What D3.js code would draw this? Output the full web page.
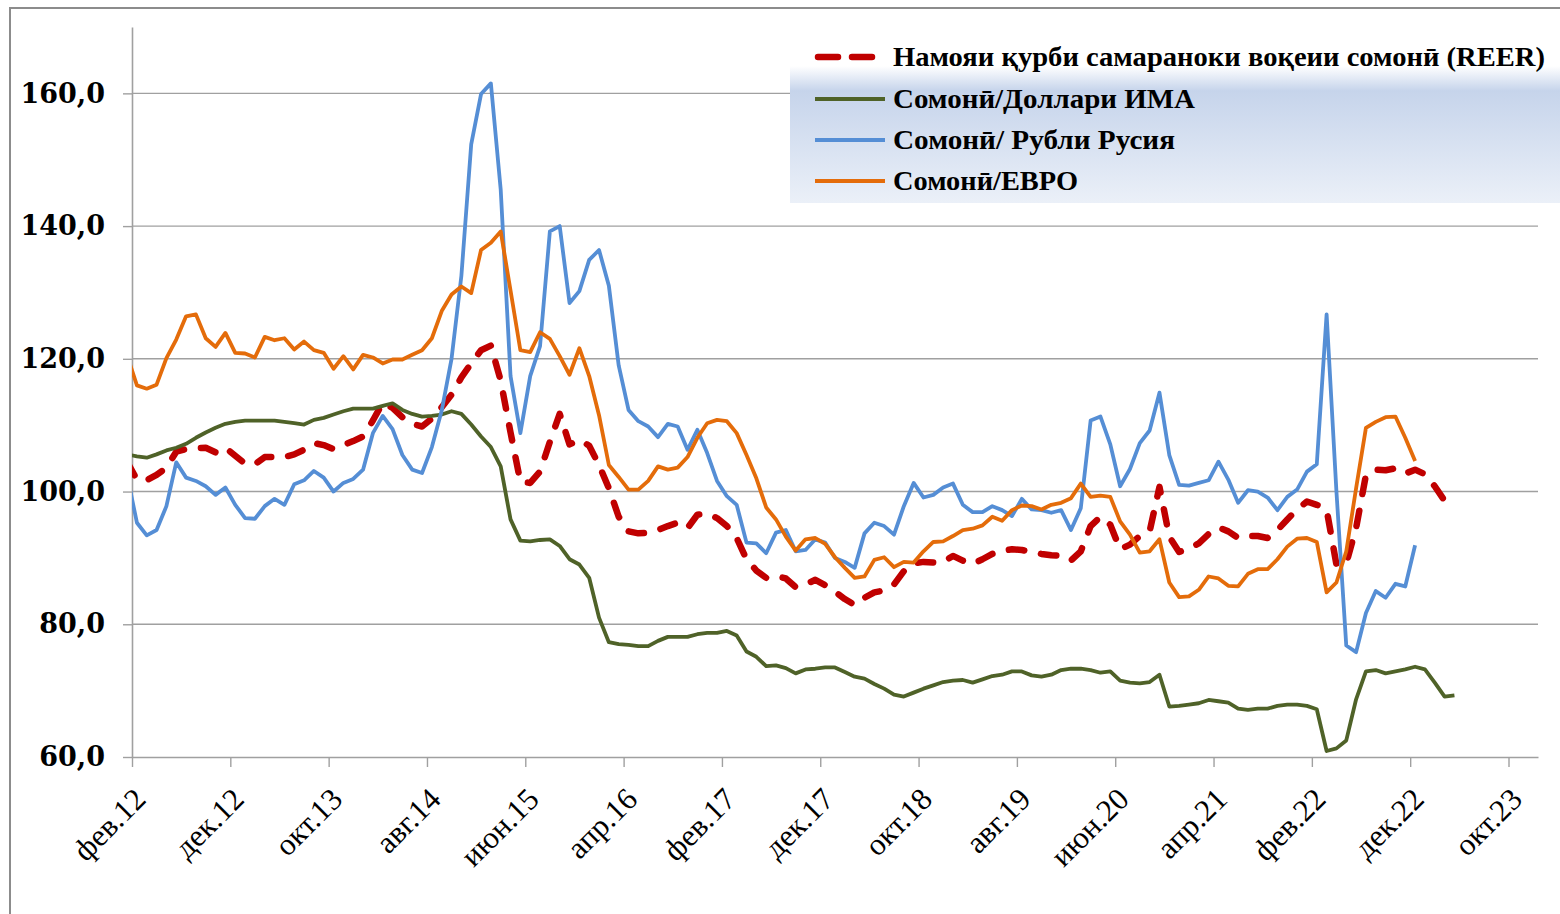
<!DOCTYPE html>
<html>
<head>
<meta charset="utf-8">
<script src="https://cdn.jsdelivr.net/npm/d3@7"></script>
<style>
  body { margin: 0; background: #fff; }
</style>
</head>
<body>
<div id="chart"></div>
<script>
// monthly index values, first value = Jan 2012 (axis starts at feb.12)
var reer = [104.5, 101.8, 101.7, 102.5, 103.6, 106.0, 106.4, 106.5, 106.6, 105.9,
  106.6, 105.4, 104.2, 104.1, 105.2, 105.2, 105.2, 105.6, 106.3, 107.3,
  107.0, 106.4, 107.0, 107.6, 108.3, 110.7, 113.4, 112.6, 111.2, 110.2,
  109.8, 111.0, 112.7, 114.6, 117.2, 119.3, 121.3, 122.0, 116.7, 108.9,
  101.5, 101.3, 103.0, 107.5, 111.7, 107.1, 107.8, 106.9, 104.0, 100.5,
  96.2, 94.0, 93.7, 93.8, 94.2, 94.8, 95.3, 94.5, 96.5, 96.7,
  96.0, 94.8, 93.0, 89.8, 88.1, 87.0, 87.3, 86.9, 85.6, 86.0,
  86.7, 85.9, 84.9, 83.8, 82.9, 84.0, 84.8, 85.1, 86.0, 88.0,
  89.2, 89.4, 89.3, 89.4, 90.3, 89.6, 89.1, 89.8, 90.6, 91.1,
  91.3, 91.2, 90.9, 90.6, 90.4, 90.3, 89.6, 91.0, 94.8, 96.2,
  95.0, 91.3, 92.0, 93.3, 94.0, 100.7, 93.2, 90.9, 91.4, 92.2,
  93.6, 94.6, 94.0, 93.0, 93.3, 93.3, 93.0, 94.2, 95.8, 97.3,
  98.5, 98.0, 97.3, 89.0, 89.2, 94.5, 102.5, 103.3, 103.2, 103.5,
  102.7, 103.3, 102.6, 100.8, 98.6];

var usd = [105.6, 105.3, 105.1, 105.6, 106.2, 106.6, 107.2, 108.1, 108.9, 109.6,
  110.2, 110.5, 110.7, 110.7, 110.7, 110.7, 110.5, 110.3, 110.1, 110.8,
  111.1, 111.6, 112.1, 112.5, 112.5, 112.5, 112.9, 113.3, 112.3, 111.7,
  111.3, 111.4, 111.6, 112.1, 111.7, 110.1, 108.3, 106.7, 103.8, 95.8,
  92.6, 92.5, 92.7, 92.8, 91.8, 89.8, 89.0, 87.0, 81.0, 77.3,
  77.0, 76.9, 76.7, 76.7, 77.5, 78.1, 78.1, 78.1, 78.5, 78.7,
  78.7, 79.0, 78.3, 75.9, 75.1, 73.7, 73.8, 73.4, 72.6, 73.2,
  73.3, 73.5, 73.5, 72.8, 72.1, 71.8, 71.0, 70.3, 69.4, 69.1,
  69.7, 70.3, 70.8, 71.3, 71.5, 71.6, 71.2, 71.7, 72.2, 72.4,
  72.9, 72.9, 72.3, 72.1, 72.4, 73.1, 73.3, 73.3, 73.1, 72.7,
  72.9, 71.5, 71.2, 71.1, 71.3, 72.4, 67.6, 67.7, 67.9, 68.1,
  68.6, 68.4, 68.2, 67.3, 67.1, 67.3, 67.3, 67.7, 67.9, 67.9,
  67.7, 67.2, 60.9, 61.3, 62.5, 68.7, 72.9, 73.1, 72.6, 72.9,
  73.2, 73.6, 73.2, 71.2, 69.1, 69.3];

var rub = [102.5, 95.3, 93.4, 94.2, 97.8, 104.4, 102.1, 101.6, 100.8, 99.5,
  100.6, 98.0, 96.0, 95.9, 97.8, 98.9, 98.0, 101.1, 101.7, 103.1,
  102.1, 100.0, 101.3, 101.9, 103.3, 108.8, 111.4, 109.4, 105.5, 103.3,
  102.8, 106.7, 112.2, 120.0, 132.5, 152.3, 159.9, 161.5, 145.5, 117.4,
  108.8, 117.4, 121.9, 139.2, 140.0, 128.4, 130.2, 134.9, 136.4, 131.0,
  119.0, 112.3, 110.6, 109.8, 108.2, 110.2, 109.8, 106.3, 109.3, 105.8,
  101.6, 99.3, 98.0, 92.3, 92.2, 90.7, 93.8, 94.2, 91.0, 91.2,
  92.8, 92.3, 90.0, 89.4, 88.5, 93.7, 95.3, 94.8, 93.5, 97.8,
  101.3, 99.1, 99.5, 100.6, 101.2, 98.0, 96.9, 96.9, 97.8, 97.2,
  96.3, 98.9, 97.3, 97.2, 96.8, 97.2, 94.2, 97.5, 110.7, 111.3,
  107.1, 100.8, 103.4, 107.3, 109.2, 114.9, 105.5, 101.0, 100.9, 101.3,
  101.7, 104.5, 101.8, 98.3, 100.2, 100.0, 99.1, 97.2, 99.2, 100.3,
  103.0, 104.1, 126.7, 100.0, 76.8, 75.8, 81.7, 85.0, 84.0, 86.1,
  85.7, 91.9];

var eur = [120.5, 116.0, 115.5, 116.1, 120.1, 122.9, 126.4, 126.7, 123.1, 121.8,
  123.9, 120.9, 120.8, 120.2, 123.3, 122.8, 123.1, 121.4, 122.6, 121.3,
  120.9, 118.5, 120.4, 118.4, 120.6, 120.2, 119.3, 119.9, 119.9, 120.6,
  121.3, 123.1, 127.2, 129.7, 130.9, 129.9, 136.4, 137.5, 139.2, 130.3,
  121.3, 121.0, 124.0, 123.0, 120.4, 117.6, 121.6, 117.4, 111.5, 104.0,
  102.2, 100.3, 100.3, 101.6, 103.8, 103.3, 103.6, 105.2, 108.1, 110.3,
  110.8, 110.6, 108.8, 105.5, 102.0, 97.6, 95.8, 93.2, 91.1, 92.8,
  93.0, 92.1, 90.1, 88.5, 87.0, 87.2, 89.7, 90.1, 88.6, 89.4,
  89.3, 91.0, 92.4, 92.5, 93.3, 94.2, 94.4, 94.9, 96.2, 95.6,
  97.2, 97.9, 97.8, 97.3, 98.0, 98.3, 99.0, 101.2, 99.2, 99.4,
  99.2, 95.5, 93.5, 90.8, 91.0, 92.8, 86.3, 84.1, 84.2, 85.2,
  87.2, 86.9, 85.8, 85.7, 87.6, 88.3, 88.3, 89.8, 91.7, 92.9,
  93.0, 92.4, 84.8, 86.3, 91.0, 100.5, 109.6, 110.5, 111.2, 111.3,
  108.1, 104.6];

// one label every 10 months, starting at feb.12
var tickLabels = ["фев.12", "дек.12", "окт.13", "авг.14", "июн.15", "апр.16", "фев.17",
  "дек.17", "окт.18", "авг.19", "июн.20", "апр.21", "фев.22", "дек.22", "окт.23"];
var yTicks = [60, 80, 100, 120, 140, 160];

var seriesNames = ["Намояи қурби самараноки воқеии сомонӣ (REER)", "Сомонӣ/Доллари ИМА",
  "Сомонӣ/ Рубли Русия", "Сомонӣ/ЕВРО"];
var seriesColors = ["#C00000", "#4F6228", "#558ED5", "#E46C0A"];

/*----------------------------------------------------------------------------*/

var svgWidth = 1560;
var svgHeight = 914;

var margin = { top: 27, right: 22, bottom: 157, left: 132 };
var width = svgWidth - margin.left - margin.right;
var height = svgHeight - margin.top - margin.bottom;

var svg = d3.select("#chart")
  .append("svg")
  .attr("width", svgWidth)
  .attr("height", svgHeight);

svg.append("rect")
  .attr("width", svgWidth)
  .attr("height", svgHeight)
  .attr("fill", "#fff");

// chart area frame (only left and top edges are inside the picture)
svg.append("rect")
  .attr("x", 10)
  .attr("y", 8)
  .attr("width", 1700)
  .attr("height", 1100)
  .attr("fill", "none")
  .attr("stroke", "#8c8c8c")
  .attr("stroke-width", 2);

var defs = svg.append("defs");

defs.append("clipPath")
  .attr("id", "plotClip")
  .append("rect")
  .attr("x", 0)
  .attr("y", -30)
  .attr("width", width)
  .attr("height", height + 40);

var grad = defs.append("linearGradient")
  .attr("id", "legendBg")
  .attr("x1", 0).attr("y1", 0)
  .attr("x2", 0).attr("y2", 1);
[[0, "#ffffff"], [0.17, "#ffffff"], [0.32, "#c6d4eb"], [1, "#ebf0f8"]].forEach(function(s) {
  grad.append("stop").attr("offset", s[0]).attr("stop-color", s[1]);
});

var chartGroup = svg.append("g")
  .attr("transform", `translate(${margin.left}, ${margin.top})`);

// x is months from 1 feb 2012; points sit mid-month
var xScale = d3.scaleLinear()
  .domain([0, 143])
  .range([0, width]);

var yScale = d3.scaleLinear()
  .domain([60, 170])
  .range([height, 0]);

// gridlines
chartGroup.append("g")
  .selectAll("line")
  .data(yTicks.slice(1))
  .enter()
  .append("line")
  .attr("x1", 0)
  .attr("x2", width)
  .attr("y1", d => yScale(d))
  .attr("y2", d => yScale(d))
  .attr("stroke", "#a0a0a0")
  .attr("stroke-width", 1.4);

// y axis
var leftAxis = d3.axisLeft(yScale)
  .tickValues(yTicks)
  .tickSize(9)
  .tickSizeOuter(0)
  .tickPadding(18)
  .tickFormat(d => d3.format(".1f")(d).replace(".", ","));

var yAxis = chartGroup.append("g").call(leftAxis);
yAxis.select(".domain").attr("stroke", "#a0a0a0").attr("stroke-width", 1.6);
yAxis.selectAll(".tick line").attr("stroke", "#a0a0a0").attr("stroke-width", 1.4);
yAxis.selectAll(".tick text")
  .attr("font-family", "'DejaVu Serif', serif")
  .attr("font-weight", "bold")
  .attr("font-size", 27)
  .attr("fill", "#000");

// x axis
var bottomAxis = d3.axisBottom(xScale)
  .tickValues(d3.range(tickLabels.length).map(i => i * 10))
  .tickSize(10)
  .tickSizeOuter(0)
  .tickFormat((d, i) => tickLabels[i]);

var xAxis = chartGroup.append("g")
  .attr("transform", `translate(0, ${height})`)
  .call(bottomAxis);
xAxis.select(".domain").attr("stroke", "#a0a0a0").attr("stroke-width", 1.6);
xAxis.selectAll(".tick line").attr("stroke", "#a0a0a0").attr("stroke-width", 1.4);
xAxis.selectAll(".tick text")
  .attr("font-family", "'Liberation Serif', 'Times New Roman', serif")
  .attr("font-size", 31)
  .attr("fill", "#000")
  .attr("text-anchor", "end")
  .attr("x", 0)
  .attr("y", 0)
  .attr("dy", 0)
  .attr("transform", "translate(15, 44) rotate(-45)");

// lines
var seriesData = [reer, usd, rub, eur];

var line = d3.line()
  .x((d, i) => xScale(i - 0.5))
  .y(d => yScale(d));

var linesGroup = chartGroup.append("g").attr("clip-path", "url(#plotClip)");

seriesData.forEach(function(values, k) {
  var path = linesGroup.append("path")
    .datum(values)
    .attr("fill", "none")
    .attr("stroke", seriesColors[k])
    .attr("stroke-linejoin", "round")
    .attr("d", line);
  if (k === 0) {
    path.attr("stroke-width", 6.5)
      .attr("stroke-linecap", "round")
      .attr("stroke-dasharray", "15.5 17");
  } else {
    path.attr("stroke-width", 3.8);
  }
});

// legend
var legend = svg.append("g");

legend.append("rect")
  .attr("x", 790)
  .attr("y", 38)
  .attr("width", 770)
  .attr("height", 165)
  .attr("fill", "url(#legendBg)");

var legendY = [57, 99, 140, 181];
var legendWidths = [652, 302, 282, 185];

seriesNames.forEach(function(name, k) {
  var row = legend.append("g").attr("transform", `translate(0, ${legendY[k]})`);
  if (k === 0) {
    row.append("line")
      .attr("x1", 818).attr("x2", 874)
      .attr("y1", 0).attr("y2", 0)
      .attr("stroke", seriesColors[k])
      .attr("stroke-width", 6.5)
      .attr("stroke-linecap", "round")
      .attr("stroke-dasharray", "20 14");
  } else {
    row.append("line")
      .attr("x1", 815).attr("x2", 885)
      .attr("y1", 0).attr("y2", 0)
      .attr("stroke", seriesColors[k])
      .attr("stroke-width", 3.8);
  }
  row.append("text")
    .attr("x", 893)
    .attr("y", 0)
    .attr("dy", "0.33em")
    .attr("font-family", "'Liberation Serif', 'DejaVu Serif', serif")
    .attr("font-weight", "bold")
    .attr("font-size", 28)
    .attr("fill", "#000")
    .attr("textLength", legendWidths[k])
    .attr("lengthAdjust", "spacingAndGlyphs")
    .text(name);
});
</script>
</body>
</html>
